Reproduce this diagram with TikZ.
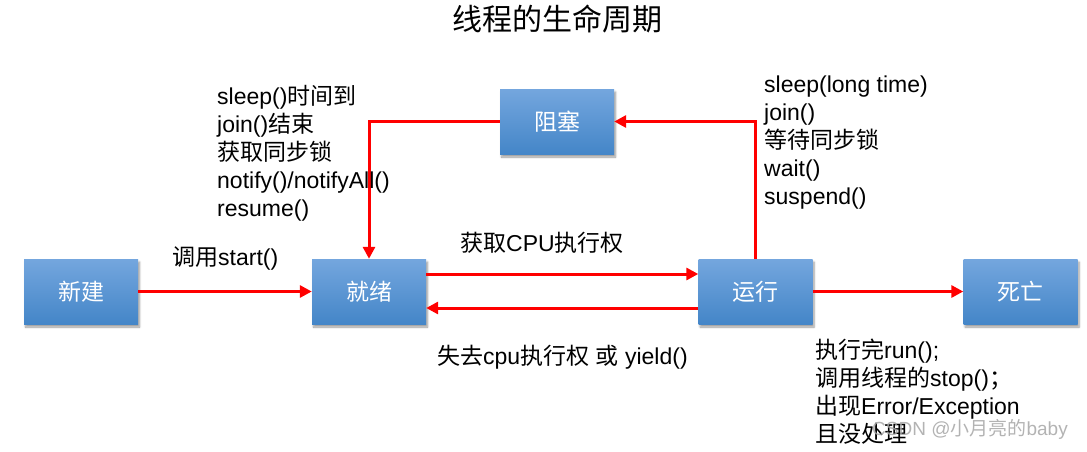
\documentclass[tikz,border=0pt]{standalone}
\usepackage{fontspec}
\setmainfont{Liberation Sans}
\newfontfamily\zh{Noto Sans CJK SC}
\newcommand\Z[1]{{\zh #1}}
\newcommand\lstrut{\rule{0pt}{21pt}}
\usetikzlibrary{arrows.meta,shadows.blur}
\definecolor{boxtop}{RGB}{116,166,222}
\definecolor{boxbot}{RGB}{68,134,200}
\definecolor{flow}{RGB}{255,0,0}
\tikzset{
  state/.style={rectangle, minimum width=114pt, minimum height=65pt, inner sep=0pt,
    top color=boxtop, bottom color=boxbot, text=white,
    font=\fontsize{23}{28}\selectfont\zh,
    blur shadow={shadow xshift=1.5pt, shadow yshift=-3pt, shadow blur steps=6, shadow opacity=40}},
  flowline/.style={draw=flow, line width=3pt, -{Triangle[length=12pt,width=12pt]}},
  lbl/.style={inner sep=0pt, font=\fontsize{23}{28}\selectfont, text=black},
  block/.style={lbl, align=left, anchor=north west},
}
\begin{document}
\begin{tikzpicture}[x=1pt,y=-1pt]
\useasboundingbox (0,0) rectangle (1087,451);

% title
\node[inner sep=0pt, font=\fontsize{30}{34}\selectfont\zh] (title) at (557,19) {线程的生命周期};

% states
\node[state] (new)     at (81,291.5)   {新建};
\node[state] (ready)   at (369,291.5)  {就绪};
\node[state] (running) at (755.5,291.5){运行};
\node[state] (dead)    at (1020.5,291.5){死亡};
\node[state] (blocked) at (557,121.5)  {阻塞};

% transitions
\draw[flowline] (new.east) -- (ready.west);
\draw[flowline] ([yshift=17.5pt]ready.east) -- ([yshift=17.5pt]running.west);
\draw[flowline] ([yshift=-16.5pt]running.west) -- ([yshift=-16.5pt]ready.east);
\draw[flowline] (running.east) -- (dead.west);
\draw[flowline] (running.north) -- (running.north |- blocked.east) -- (blocked.east);
\draw[flowline] (blocked.west) -| (ready.north);

% transition labels
\node[lbl, anchor=base west] (lstart) at (172,265) {\Z{调用}start()};
\node[lbl, anchor=base west] (lcpu)   at (460,251) {\Z{获取}CPU\Z{执行权}};
\node[lbl, anchor=base west] (lyield) at (437,364) {\Z{失去}cpu\Z{执行权} \Z{或} yield()};

\node[block] (lwake) at (217,83) {\lstrut sleep()\Z{时间到}\\join()\Z{结束}\\\Z{获取同步锁}\\notify()/notifyAll()\\resume()};
\node[block] (lblock) at (764,71) {\lstrut sleep(long time)\\join()\\\Z{等待同步锁}\\wait()\\suspend()};
\node[block] (lend) at (815,337) {\lstrut\Z{执行完}run();\\\Z{调用线程的}stop()\Z{；}\\\Z{出现}Error/Exception\\\Z{且没处理}};

% watermark
\node[inner sep=0pt, anchor=base west, font=\fontsize{19}{22}\selectfont, text=black!35, text opacity=0.85] (wm) at (872,435) {CSDN @\Z{小月亮的}baby};
\end{tikzpicture}
\end{document}
